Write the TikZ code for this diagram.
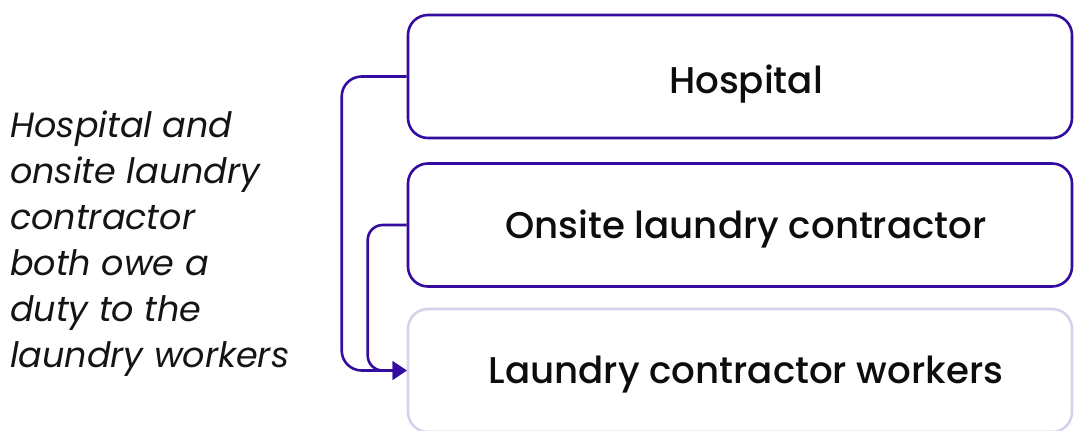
\documentclass[tikz,border=0pt]{standalone}
\usepackage{fontspec}
\setmainfont{Poppins}[UprightFont=* Medium, ItalicFont=* Italic]
\usetikzlibrary{arrows.meta}
\definecolor{deep}{RGB}{52,12,160}
\definecolor{lav}{RGB}{214,210,236}
\tikzset{
  box/.style={draw=deep, line width=2.6pt, rounded corners=20pt, minimum width=664pt, minimum height=123pt, inner sep=0pt, text height=26.5pt, text depth=0pt, text=black!95, font=\fontsize{37.2}{42}\selectfont},
  conn/.style={draw=deep, line width=2.6pt, rounded corners=20pt, -{Triangle[length=14pt,width=18pt]}}
}
\begin{document}
\begin{tikzpicture}[x=1pt,y=1pt]
\useasboundingbox (0,0) rectangle (1074,-431);
\begin{scope}
\clip (0,0) rectangle (1074,-431);
\node[box] (b1) at (740,-76.5) {\hspace*{12pt}\raisebox{-4pt}{Hospital}};
\node[box] (b2) at (740,-225) {\hspace*{12pt}Onsite laundry contractor};
\node[box, draw=lav] (b3) at (740,-370.5) {\hspace*{12pt}Laundry contractor workers};
\draw[conn] (b1.west) -- ++(-65,0) |- (b3.west);
\draw[conn, rounded corners=15pt] (b2.west) -- ++(-39,0) |- (b3.west);
\node[anchor=north west, align=left, inner sep=0pt, font=\itshape\fontsize{35}{46}\selectfont, text=black!92] (txt) at (10,-111)
{Hospital and\\onsite laundry\\contractor\\both owe a\\duty to the\\laundry workers};
\end{scope}
\end{tikzpicture}
\end{document}
